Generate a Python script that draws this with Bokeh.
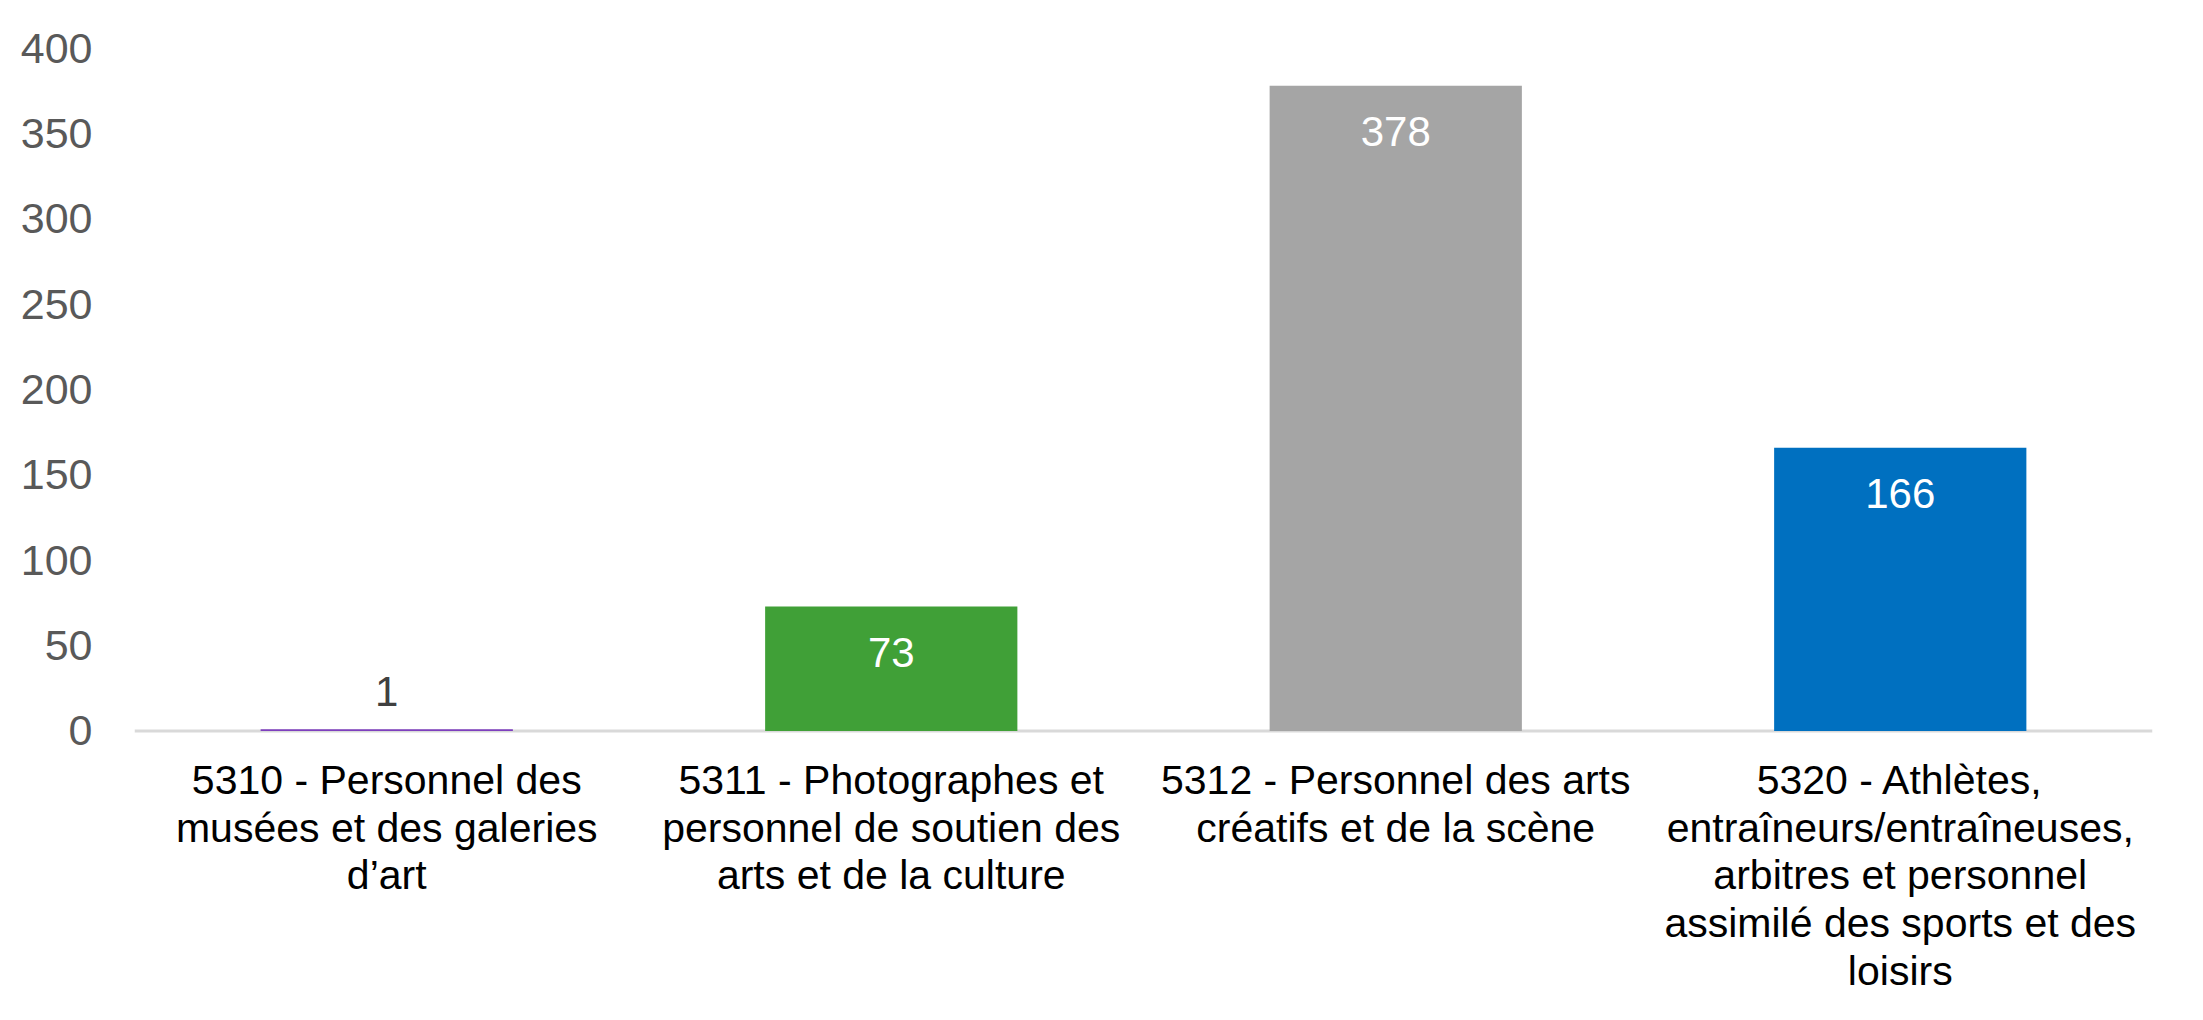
from bokeh.plotting import figure
from bokeh.models import ColumnDataSource, FactorRange, Range1d, FixedTicker, Span
from bokeh.core.properties import value
from bokeh.embed import file_html
from bokeh.resources import INLINE

# ---- data ----
categories = [
    "5310 - Personnel des musées et des galeries d’art",
    "5311 - Photographes et personnel de soutien des arts et de la culture",
    "5312 - Personnel des arts créatifs et de la scène",
    "5320 - Athlètes, entraîneurs/entraîneuses, arbitres et personnel assimilé des sports et des loisirs",
]
label_lines = [
    ["5310 - Personnel des", "musées et des galeries", "d’art"],
    ["5311 - Photographes et", "personnel de soutien des", "arts et de la culture"],
    ["5312 - Personnel des arts", "créatifs et de la scène"],
    ["5320 - Athlètes,", "entraîneurs/entraîneuses,", "arbitres et personnel",
     "assimilé des sports et des", "loisirs"],
]
values = [1, 73, 378, 166]
colors = ["#7E3FBE", "#40A037", "#A5A5A5", "#0070C0"]
y_ticks = [0, 50, 100, 150, 200, 250, 300, 350, 400]

FONT = "Liberation Sans"

p = figure(
    width=2187, height=1008,
    x_range=FactorRange(factors=categories),
    y_range=Range1d(-162.6, 416.3),
    x_axis_location=None,
    output_backend="svg", toolbar_location=None,
    min_border_left=134, min_border_right=35, min_border_top=20, min_border_bottom=0,
)
p.outline_line_color = None
p.xgrid.visible = False
p.ygrid.visible = False
p.background_fill_color = "white"
p.border_fill_color = "white"

# y axis
ax = p.yaxis[0]
ax.ticker = FixedTicker(ticks=y_ticks)
ax.axis_line_color = None
ax.major_tick_line_color = None
ax.minor_tick_line_color = None
ax.major_label_text_font = FONT
ax.major_label_text_font_size = "43px"
ax.major_label_text_color = "#595959"
ax.major_label_standoff = 36

# baseline axis line
p.add_layout(Span(location=0, dimension="width", line_color="#D9D9D9",
                  line_width=3, level="underlay"))

# bars
src = ColumnDataSource(dict(cat=categories, val=values, color=colors))
p.vbar(x="cat", top="val", width=0.5, bottom=0, fill_color="color",
       line_color=None, source=src)

# value labels
inside = [v > 20 for v in values]
lab_src = ColumnDataSource(dict(
    cat=categories, val=values, text=[str(v) for v in values],
    color=["white" if i else "#404040" for i in inside],
    yoff=[46 if i else -38 for i in inside],
))
p.text(x="cat", y="val", text="text", text_color="color", y_offset="yoff",
       text_align="center", text_baseline="middle",
       text_font=value(FONT), text_font_size="42px", source=lab_src)

# category labels (multi-line, below the axis)
xs, ys, texts, yoffs = [], [], [], []
for c, lines in zip(categories, label_lines):
    for j, line in enumerate(lines):
        xs.append(c)
        ys.append(0)
        texts.append(line)
        yoffs.append(49 + 47.7 * j)
cat_src = ColumnDataSource(dict(x=xs, y=ys, text=texts, yoff=yoffs))
p.text(x="x", y="y", text="text", y_offset="yoff",
       text_align="center", text_baseline="middle", text_color="black",
       text_font=value(FONT), text_font_size="41px", source=cat_src)

open("out.html", "w").write(file_html(p, INLINE))
